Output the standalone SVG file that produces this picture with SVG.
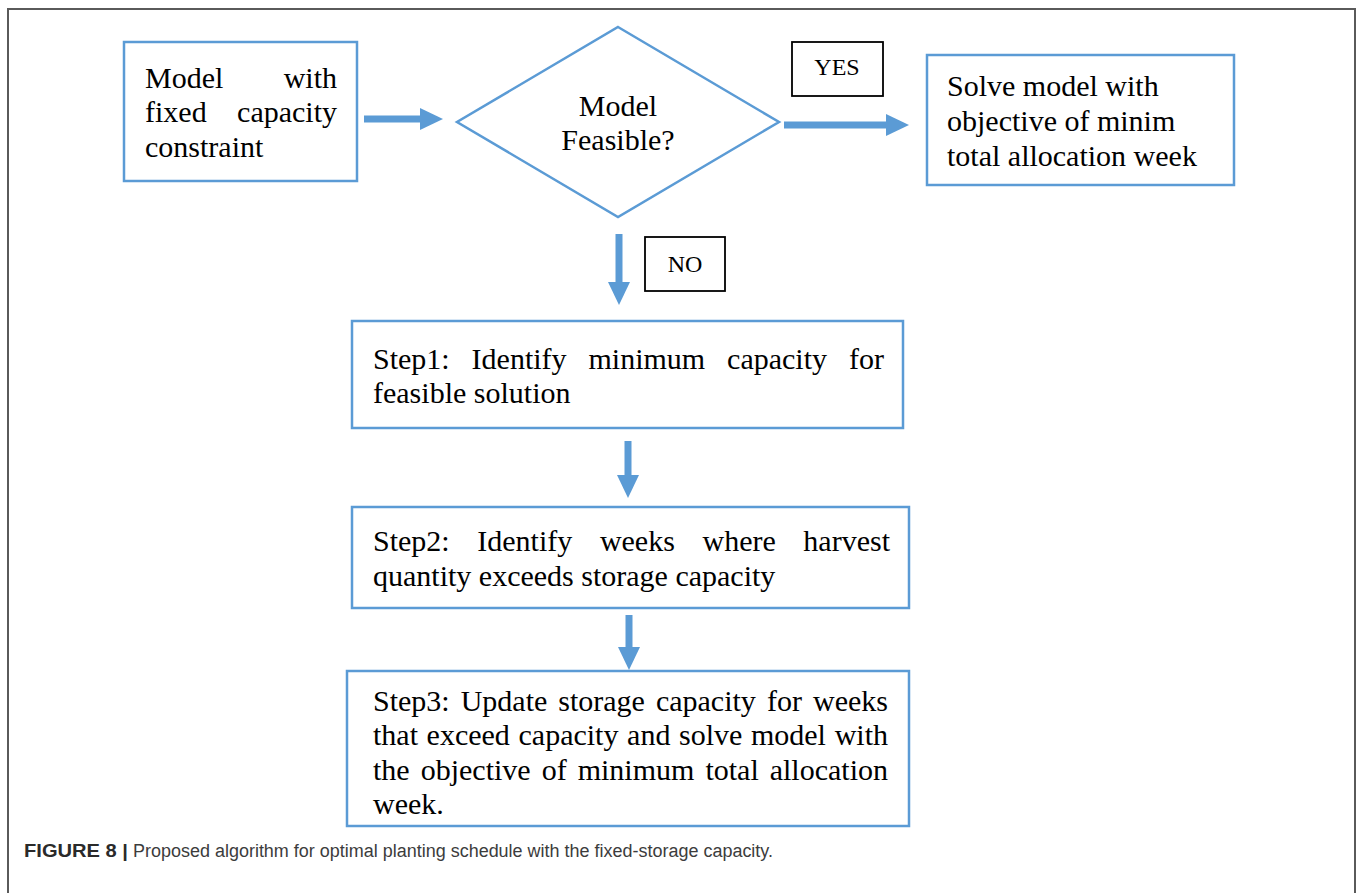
<svg xmlns="http://www.w3.org/2000/svg" width="1358" height="893" viewBox="0 0 1358 893">
<style>
.box{fill:#fff;stroke:#5b9bd5;stroke-width:2.5}
.lbl{fill:#fff;stroke:#000;stroke-width:1.8}
.t{font-family:"Liberation Serif","Times New Roman",serif;font-size:30px;fill:#000}
.s{font-family:"Liberation Serif","Times New Roman",serif;font-size:24px;fill:#000}
.conn{stroke:#5b9bd5;stroke-width:7;fill:none}
.cap{font-family:"Liberation Sans",Arial,sans-serif;font-size:18px;fill:#3c3c3c}
</style>
<defs>
<marker id="ah" markerUnits="userSpaceOnUse" markerWidth="24" markerHeight="24" viewBox="0 0 24 24" refX="1" refY="12" orient="auto">
<path d="M0,1 L23,12 L0,23 z" fill="#5b9bd5"/>
</marker>
</defs>
<rect width="1358" height="893" fill="#fff"/>
<path d="M8,893 V9 H1355 V893" fill="none" stroke="#5a5a5a" stroke-width="2"/>

<g id="connectors">
<line class="conn" x1="364" y1="119" x2="421" y2="119" marker-end="url(#ah)"/>
<line class="conn" x1="784" y1="125" x2="887" y2="125" marker-end="url(#ah)"/>
<line class="conn" x1="619" y1="234" x2="619" y2="283" marker-end="url(#ah)"/>
<line class="conn" x1="628" y1="441" x2="628" y2="476" marker-end="url(#ah)"/>
<line class="conn" x1="629" y1="615" x2="629" y2="648" marker-end="url(#ah)"/>
</g>

<g id="start">
<rect class="box" x="124" y="42" width="233" height="139"/>
<text class="t" y="88"><tspan x="145">Model</tspan><tspan x="337" text-anchor="end">with</tspan></text>
<text class="t" y="122"><tspan x="145">fixed</tspan><tspan x="337" text-anchor="end">capacity</tspan></text>
<text class="t" x="145" y="157">constraint</text>
</g>

<g id="decision">
<polygon points="618,27 779,122 618,217 457,122" fill="#fff" stroke="#5b9bd5" stroke-width="2.5"/>
<text class="t" x="618" y="116" text-anchor="middle">Model</text>
<text class="t" x="618" y="150" text-anchor="middle">Feasible?</text>
</g>

<g id="yes-label">
<rect class="lbl" x="792" y="42" width="91" height="54"/>
<text class="s" x="837" y="75" text-anchor="middle">YES</text>
</g>

<g id="no-label">
<rect class="lbl" x="645" y="237" width="80" height="54"/>
<text class="s" x="685" y="272" text-anchor="middle">NO</text>
</g>

<g id="solve">
<rect class="box" x="927" y="55" width="307" height="130"/>
<text class="t" x="947" y="96">Solve model with</text>
<text class="t" x="947" y="131">objective of minim</text>
<text class="t" x="947" y="166">total allocation week</text>
</g>

<g id="step1">
<rect class="box" x="352" y="321" width="551" height="107"/>
<text class="t" y="369"><tspan x="373">Step1:</tspan><tspan x="471.6">Identify</tspan><tspan x="588.5">minimum</tspan><tspan x="727.1">capacity</tspan><tspan x="884" text-anchor="end">for</tspan></text>
<text class="t" x="373" y="403">feasible solution</text>
</g>

<g id="step2">
<rect class="box" x="352" y="507" width="557" height="101"/>
<text class="t" y="551"><tspan x="373">Step2:</tspan><tspan x="477.3">Identify</tspan><tspan x="599.9">weeks</tspan><tspan x="702.5">where</tspan><tspan x="890" text-anchor="end">harvest</tspan></text>
<text class="t" x="373" y="586">quantity exceeds storage capacity</text>
</g>

<g id="step3">
<rect class="box" x="347" y="671" width="562" height="155"/>
<text class="t" y="711"><tspan x="373">Step3:</tspan><tspan x="460.7">Update</tspan><tspan x="558.3">storage</tspan><tspan x="655.9">capacity</tspan><tspan x="766.9">for</tspan><tspan x="888" text-anchor="end">weeks</tspan></text>
<text class="t" y="745"><tspan x="373">that</tspan><tspan x="426.6">exceed</tspan><tspan x="518.5">capacity</tspan><tspan x="627.1">and</tspan><tspan x="679">solve</tspan><tspan x="750.9">model</tspan><tspan x="888" text-anchor="end">with</tspan></text>
<text class="t" y="780"><tspan x="373">the</tspan><tspan x="420.7">objective</tspan><tspan x="541.7">of</tspan><tspan x="577.7">minimum</tspan><tspan x="705.4">total</tspan><tspan x="888" text-anchor="end">allocation</tspan></text>
<text class="t" x="373" y="814">week.</text>
</g>

<g id="caption">
<text class="cap" y="857"><tspan x="24" font-weight="bold" fill="#2a2a2a" textLength="104" lengthAdjust="spacingAndGlyphs">FIGURE 8 |</tspan><tspan x="133" textLength="640" lengthAdjust="spacingAndGlyphs">Proposed algorithm for optimal planting schedule with the fixed-storage capacity.</tspan></text>
</g>
</svg>
